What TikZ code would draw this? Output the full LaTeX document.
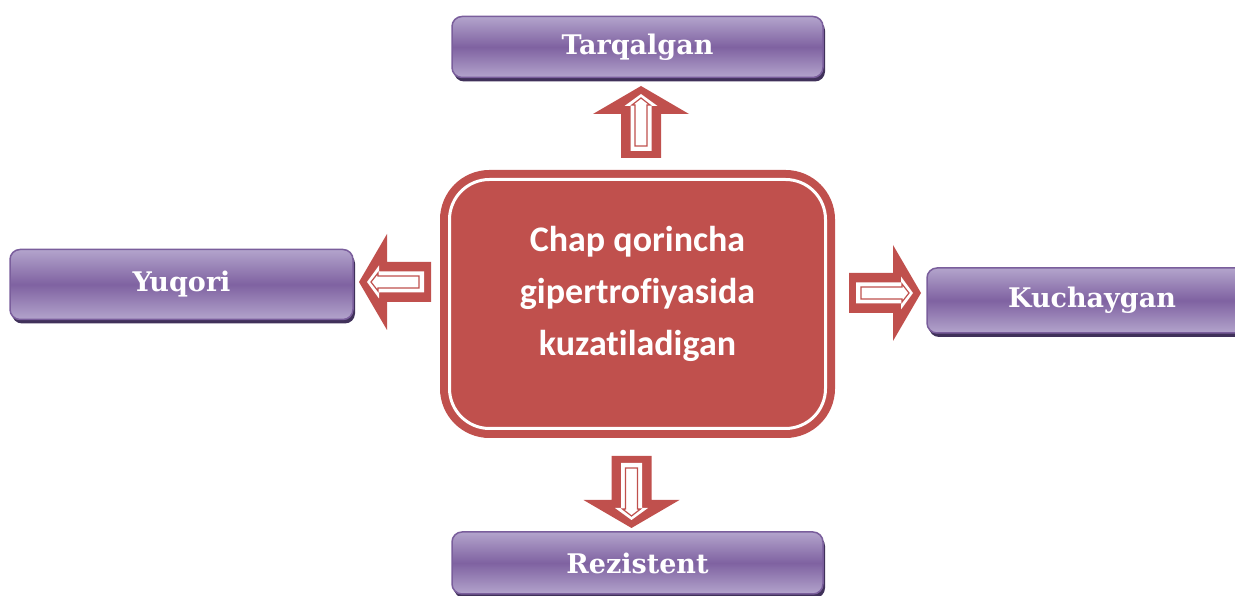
\documentclass[tikz,border=0pt]{standalone}
\usepackage{fontspec}
\usepackage{tikz}
\usetikzlibrary{positioning,shadows}
\newfontfamily\outcomefont{DejaVu Serif}
\newfontfamily\hubfont[Ligatures=NoCommon]{Carlito}
\usepackage{xcolor}
\definecolor{lvhRed}{HTML}{C0504D}
\definecolor{lvhPurple}{HTML}{7F62A1}
\definecolor{lvhLilac}{HTML}{B3A4CC}
\definecolor{lvhEdge}{HTML}{7A5E9C}
\definecolor{lvhShadow}{HTML}{40315A}

\begin{document}
\begin{tikzpicture}[
    x=1pt, y=1pt,
    outcome/.style={draw=lvhEdge, line width=1.5pt, rounded corners=10pt, top color=lvhLilac, bottom color=lvhLilac, middle color=lvhPurple,
        drop shadow={shadow xshift=2pt, shadow yshift=-4pt, fill=lvhShadow, opacity=1},
        text=white, font=\outcomefont\bfseries\fontsize{27}{30}\selectfont, inner sep=0pt},
    hubbox/.style={draw=lvhRed, line width=8pt, double=white, double distance=3pt, fill=lvhRed, rounded corners=40pt, inner sep=0pt},
    hubtext/.style={text=white, font=\hubfont\bfseries\fontsize{36}{52}\selectfont, align=center},
    blkarrow/.pic={
        \fill[lvhRed] (0,-20) -- (44,-20) -- (44,-48) -- (72,0) -- (44,48) -- (44,20) -- (0,20) -- cycle;
        \fill[white] (7,-10.5) -- (52,-10.5) -- (52,-16.5) -- (64,0) -- (52,16.5) -- (52,10.5) -- (7,10.5) -- cycle;
        \draw[lvhRed, line width=1.2pt] (12,-6) -- (53,-6) -- (53,-9) -- (60,0) -- (53,9) -- (53,6) -- (12,6) -- cycle;
    },
]
\useasboundingbox (0,0) rectangle (1235,596);

% centre
\node[hubbox, minimum width=376, minimum height=249] (chap) at (637.5,292) {};
\node[hubtext] (chaptext) at ([yshift=10]chap.center) {Chap qorincha\\gipertrofiyasida\\kuzatiladigan};

% outcomes
\node[outcome, minimum width=371, minimum height=61] (tarqalgan) at (637.5,549) {Tarqalgan};
\node[outcome, minimum width=343, minimum height=70] (yuqori) at (181.5,311.5) {Yuqori};
\node[outcome, minimum width=330, minimum height=65] (kuchaygan) at (1092,295.5) {Kuchaygan};
\node[outcome, minimum width=371, minimum height=62] (rezistent) at (637.5,33) {Rezistent};

% ===== ARROWS =====
\pic[rotate=90] (upArr) at ([xshift=3.5, yshift=17.5]chap.north) {blkarrow};
\pic[rotate=-90] (downArr) at ([xshift=-6, yshift=-23.5]chap.south) {blkarrow};
\pic[rotate=180] (leftArr) at ([xshift=-14.5, yshift=22]chap.west) {blkarrow};
\pic (rightArr) at ([xshift=19.5, yshift=11]chap.east) {blkarrow};

\end{tikzpicture}
\end{document}
